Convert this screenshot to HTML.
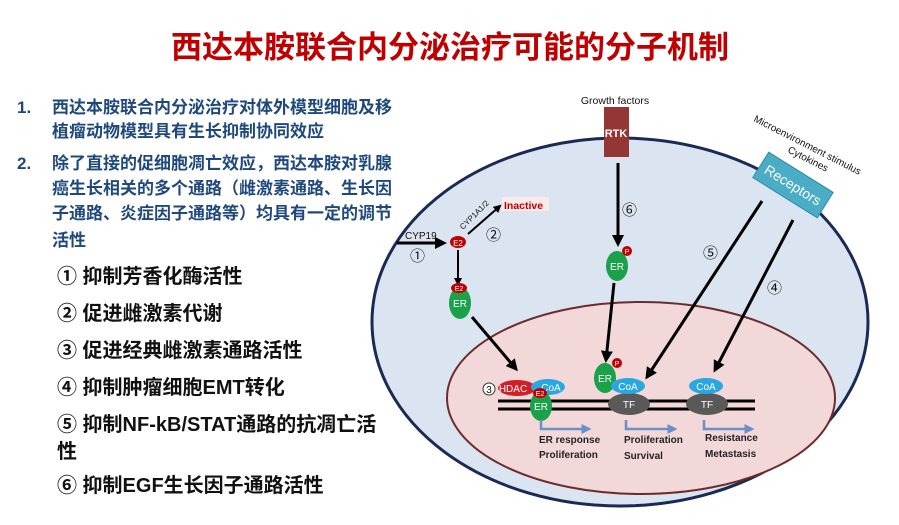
<!DOCTYPE html>
<html><head><meta charset="utf-8"><style>
body{margin:0;background:#fff;}
svg{display:block;font-family:"Liberation Sans","Noto Sans CJK SC",sans-serif;}
.b{font-weight:bold;fill:#1f497d;font-size:17px;}
.c{font-weight:bold;fill:#111;font-size:20px;}
</style></head><body>
<svg width="899" height="525" viewBox="0 0 899 525">
<defs>
<marker id="ah" markerWidth="4" markerHeight="4" refX="3" refY="2" orient="auto" markerUnits="strokeWidth"><path d="M0,0 L4,2 L0,4 z" fill="#000"/></marker>
<marker id="bh" markerWidth="4" markerHeight="4" refX="3" refY="2" orient="auto" markerUnits="strokeWidth"><path d="M0,0 L4,2 L0,4 z" fill="#6b8fc7"/></marker>
</defs>
<text x="450" y="58" text-anchor="middle" font-size="31" font-weight="bold" fill="#c00000">西达本胺联合内分泌治疗可能的分子机制</text>
<text class="b" x="17" y="113">1.</text>
<text class="b" x="52" y="113">西达本胺联合内分泌治疗对体外模型细胞及移</text>
<text class="b" x="52" y="137">植瘤动物模型具有生长抑制协同效应</text>
<text class="b" x="17" y="169">2.</text>
<text class="b" x="52" y="169">除了直接的促细胞凋亡效应，西达本胺对乳腺</text>
<text class="b" x="52" y="194">癌生长相关的多个通路（雌激素通路、生长因</text>
<text class="b" x="52" y="219">子通路、炎症因子通路等）均具有一定的调节</text>
<text class="b" x="52" y="246">活性</text>
<text class="c" x="57" y="283">① 抑制芳香化酶活性</text>
<text class="c" x="57" y="320">② 促进雌激素代谢</text>
<text class="c" x="57" y="357">③ 促进经典雌激素通路活性</text>
<text class="c" x="57" y="394">④ 抑制肿瘤细胞EMT转化</text>
<text class="c" x="57" y="431">⑤ 抑制NF-kB/STAT通路的抗凋亡活</text>
<text class="c" x="57" y="458">性</text>
<text class="c" x="57" y="492">⑥ 抑制EGF生长因子通路活性</text>

<ellipse cx="620" cy="322" rx="248" ry="184" fill="#dbe4f1" stroke="#1b2a55" stroke-width="3"/>
<ellipse cx="641" cy="398" rx="194" ry="96" fill="#f3d8da" stroke="#6e2b2b" stroke-width="2"/>

<text x="615" y="104" text-anchor="middle" font-size="10.5" fill="#111">Growth factors</text>
<rect x="604" y="107" width="25" height="50" fill="#943634"/>
<text x="616" y="137" text-anchor="middle" font-size="11" font-weight="bold" fill="#fff">RTK</text>

<text transform="translate(753,121) rotate(27)" font-size="10" fill="#111">Microenvironment  stimulus</text>
<text transform="translate(787,152) rotate(27)" font-size="10" fill="#111">Cytokines</text>
<g transform="translate(793,185) rotate(32)">
<rect x="-38" y="-15" width="76" height="30" fill="#4bacc6" stroke="#2e8aa6"/>
<text x="0" y="5" text-anchor="middle" font-size="14" fill="#fff">Receptors</text>
</g>

<line x1="397" y1="243" x2="444" y2="243" stroke="#000" stroke-width="3" marker-end="url(#ah)"/>
<text x="405" y="239" font-size="10" fill="#111">CYP19</text>
<text x="410" y="261" font-size="15" fill="#111">①</text>
<ellipse cx="458" cy="242" rx="8" ry="6" fill="#c00000"/>
<text x="458" y="246" text-anchor="middle" font-size="8" fill="#fff">E2</text>
<line x1="468" y1="234" x2="500" y2="206" stroke="#000" stroke-width="2" marker-end="url(#ah)"/>
<text transform="translate(463,230) rotate(-45)" font-size="8" fill="#111">CYP1A1/2</text>
<rect x="502" y="197" width="47" height="14" fill="#fbeaea"/>
<text x="504" y="209" font-size="10.5" font-weight="bold" fill="#c00000">Inactive</text>
<text x="486" y="240" font-size="15" fill="#111">②</text>
<line x1="458" y1="250" x2="458" y2="284" stroke="#000" stroke-width="2" marker-end="url(#ah)"/>
<ellipse cx="460" cy="303" rx="11" ry="16" fill="#1aa14a"/>
<ellipse cx="459" cy="288" rx="8" ry="5" fill="#c00000"/>
<text x="459" y="291" text-anchor="middle" font-size="7" fill="#fff">E2</text>
<text x="460" y="307" text-anchor="middle" font-size="10" fill="#fff">ER</text>
<line x1="472" y1="317" x2="516" y2="369" stroke="#000" stroke-width="3" marker-end="url(#ah)"/>

<line x1="618" y1="163" x2="618" y2="244" stroke="#000" stroke-width="3" marker-end="url(#ah)"/>
<text x="622" y="215" font-size="15" fill="#111">⑥</text>
<ellipse cx="617" cy="266" rx="11" ry="15" fill="#1aa14a"/>
<text x="617" y="270" text-anchor="middle" font-size="10" fill="#fff">ER</text>
<circle cx="627" cy="251" r="5" fill="#c00000"/><text x="627" y="254" text-anchor="middle" font-size="7" fill="#fff">P</text>
<line x1="614" y1="283" x2="606" y2="360" stroke="#000" stroke-width="3" marker-end="url(#ah)"/>

<line x1="762" y1="201" x2="647" y2="377" stroke="#000" stroke-width="3" marker-end="url(#ah)"/>
<text x="703" y="258" font-size="15" fill="#111">⑤</text>
<line x1="793" y1="220" x2="715" y2="370" stroke="#000" stroke-width="3" marker-end="url(#ah)"/>
<text x="767" y="293" font-size="15" fill="#111">④</text>

<line x1="498" y1="401" x2="755" y2="401" stroke="#000" stroke-width="3"/>
<line x1="498" y1="409" x2="755" y2="409" stroke="#000" stroke-width="3"/>

<circle cx="489" cy="389" r="6" fill="#fff" stroke="#333"/><text x="489" y="393" text-anchor="middle" font-size="10" fill="#111">3</text>
<ellipse cx="517" cy="388" rx="19" ry="8" fill="#d01f26"/>
<text x="513" y="392" text-anchor="middle" font-size="10" fill="#fff">HDAC</text>
<ellipse cx="548" cy="387" rx="17" ry="8" fill="#2aa7e0"/>
<text x="551" y="391" text-anchor="middle" font-size="10" fill="#fff">CoA</text>
<ellipse cx="541" cy="406" rx="11" ry="15" fill="#1aa14a"/>
<ellipse cx="540" cy="393" rx="7" ry="5" fill="#c00000"/>
<text x="540" y="396" text-anchor="middle" font-size="7" fill="#fff">E2</text>
<text x="541" y="410" text-anchor="middle" font-size="10" fill="#fff">ER</text>

<ellipse cx="605" cy="378" rx="11" ry="15" fill="#1aa14a"/>
<text x="605" y="382" text-anchor="middle" font-size="10" fill="#fff">ER</text>
<circle cx="617" cy="363" r="5" fill="#c00000"/><text x="617" y="366" text-anchor="middle" font-size="7" fill="#fff">P</text>
<ellipse cx="629" cy="404" rx="21" ry="11" fill="#595959"/>
<text x="629" y="408" text-anchor="middle" font-size="10" fill="#fff">TF</text>
<ellipse cx="628" cy="386" rx="17" ry="8" fill="#2aa7e0"/>
<text x="628" y="390" text-anchor="middle" font-size="10" fill="#fff">CoA</text>

<ellipse cx="707" cy="404" rx="21" ry="11" fill="#595959"/>
<text x="707" y="408" text-anchor="middle" font-size="10" fill="#fff">TF</text>
<ellipse cx="706" cy="386" rx="17" ry="8" fill="#2aa7e0"/>
<text x="706" y="390" text-anchor="middle" font-size="10" fill="#fff">CoA</text>

<g stroke="#6b8fc7" stroke-width="2.5" fill="none">
<path d="M541 420 V429 H589" marker-end="url(#bh)"/>
<path d="M626 420 V429 H675" marker-end="url(#bh)"/>
<path d="M704 420 V429 H752" marker-end="url(#bh)"/>
</g>
<g font-size="10" font-weight="bold" fill="#222">
<text x="539" y="443">ER response</text><text x="539" y="458">Proliferation</text>
<text x="624" y="443">Proliferation</text><text x="624" y="459">Survival</text>
<text x="705" y="441">Resistance</text><text x="705" y="457">Metastasis</text>
</g>
</svg>
</body></html>
